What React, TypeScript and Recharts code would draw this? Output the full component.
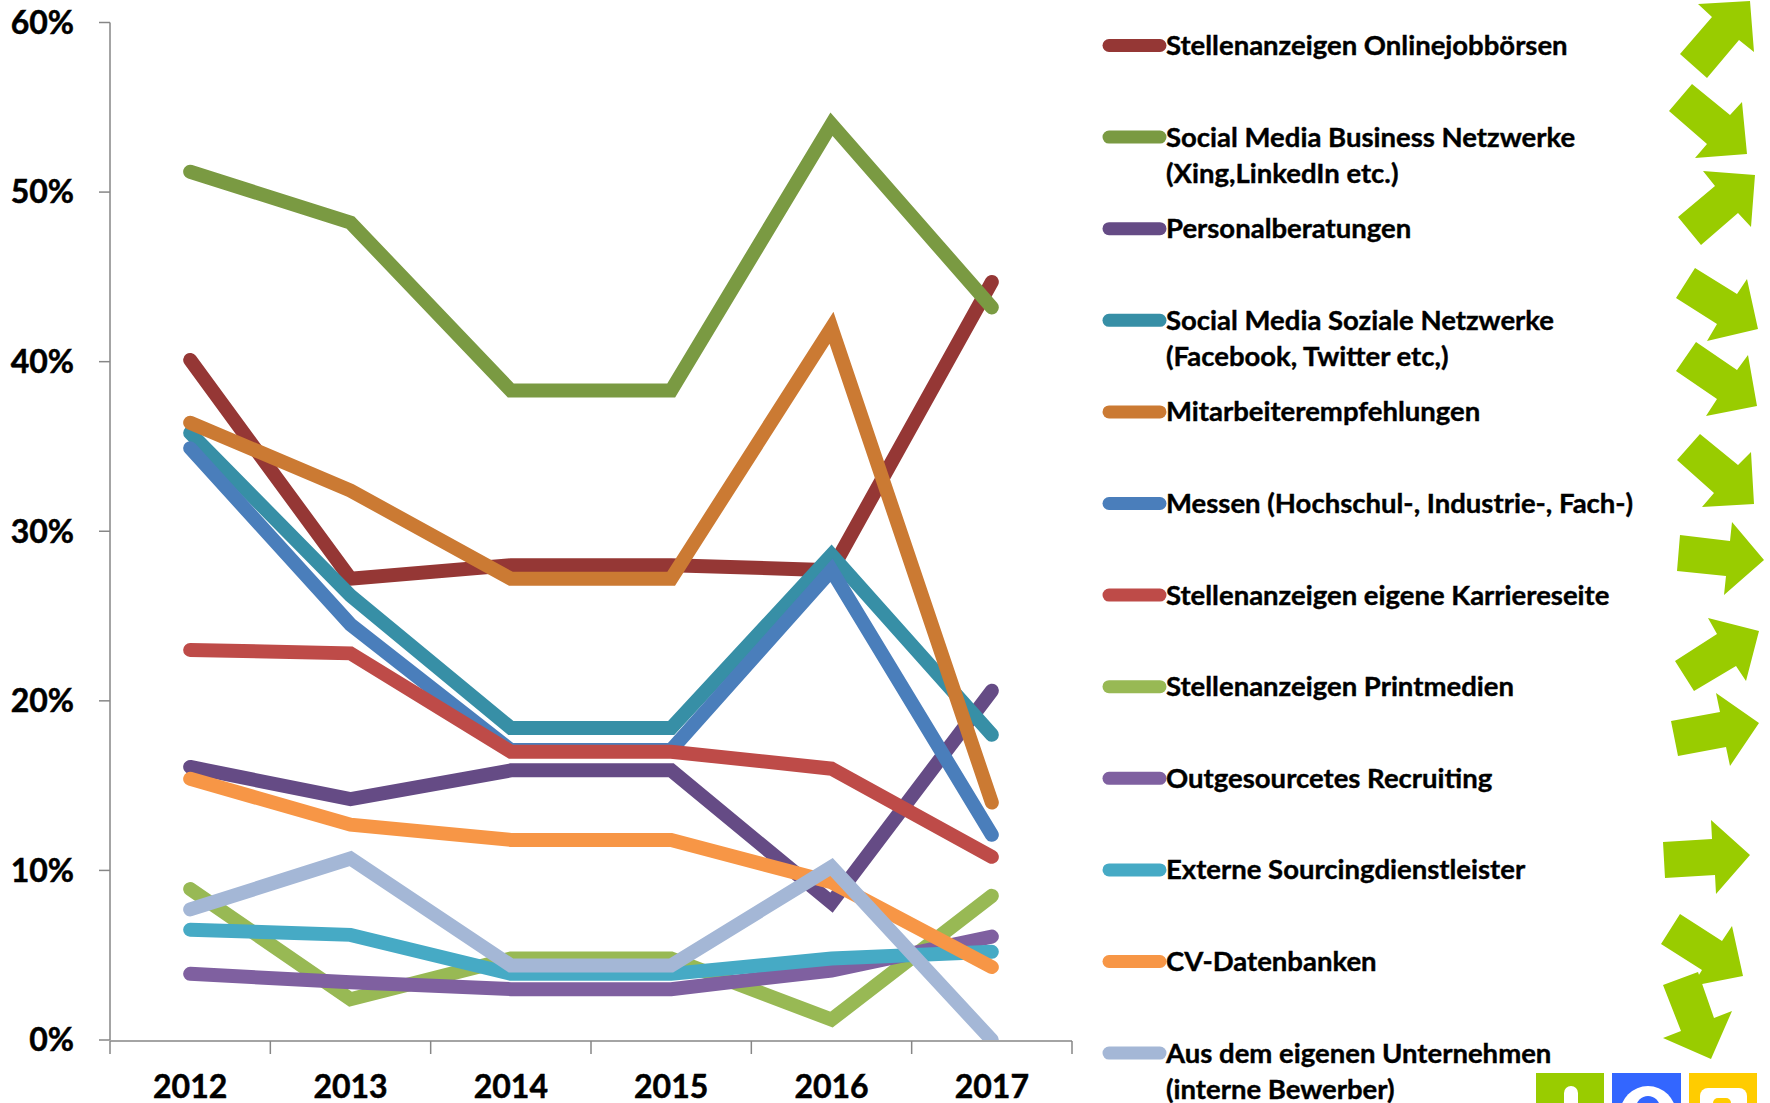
import React from "react";
import { LineChart, Line, XAxis, YAxis } from "recharts";

const years = ["2012", "2013", "2014", "2015", "2016", "2017"];
const online = [40.1, 27.2, 28, 28, 27.7, 44.7];
const business = [51.2, 48.2, 38.3, 38.3, 54, 43.2];
const personal = [16.1, 14.2, 15.9, 15.9, 8.1, 20.6];
const soziale = [35.8, 26.2, 18.4, 18.4, 28.6, 18];
const mitarbeiter = [36.4, 32.4, 27.2, 27.2, 42, 14];
const messen = [34.9, 24.5, 17.1, 17.1, 27.7, 12.1];
const karriere = [23, 22.8, 17, 17, 16, 10.8];
const print = [8.9, 2.4, 4.8, 4.8, 1.2, 8.5];
const outsourced = [3.9, 3.4, 3.0, 3.0, 4.1, 6.1];
const extern = [6.5, 6.2, 3.9, 3.9, 4.8, 5.2];
const cv = [15.4, 12.7, 11.8, 11.8, 9.3, 4.3];
const intern = [7.7, 10.7, 4.4, 4.4, 10.2, 0];

const series = [
  { key: "online", lines: ["Stellenanzeigen Onlinejobbörsen"], values: online, color: "#953735" },
  { key: "business", lines: ["Social Media Business Netzwerke", "(Xing,LinkedIn etc.)"], values: business, color: "#7A9A42" },
  { key: "personal", lines: ["Personalberatungen"], values: personal, color: "#654B85" },
  { key: "soziale", lines: ["Social Media Soziale Netzwerke", "(Facebook, Twitter etc,)"], values: soziale, color: "#378FA6" },
  { key: "mitarbeiter", lines: ["Mitarbeiterempfehlungen"], values: mitarbeiter, color: "#CB7A33" },
  { key: "messen", lines: ["Messen (Hochschul-, Industrie-, Fach-)"], values: messen, color: "#4A7EBB" },
  { key: "karriere", lines: ["Stellenanzeigen eigene Karriereseite"], values: karriere, color: "#BE4B48" },
  { key: "print", lines: ["Stellenanzeigen Printmedien"], values: print, color: "#98B954" },
  { key: "outsourced", lines: ["Outgesourcetes Recruiting"], values: outsourced, color: "#7F60A0" },
  { key: "extern", lines: ["Externe Sourcingdienstleister"], values: extern, color: "#46AAC5" },
  { key: "cv", lines: ["CV-Datenbanken"], values: cv, color: "#F79646" },
  { key: "intern", lines: ["Aus dem eigenen Unternehmen", "(interne Bewerber)"], values: intern, color: "#A4B7D6" },
];

const rows = years.map((year, i) => {
  const row: Record<string, string | number> = { year };
  series.forEach((s) => { row[s.key] = s.values[i]; });
  return row;
});

const FONT = "Lato, 'Open Sans', sans-serif";
const arrowGreen = "#99CC00";
const axisColor = "#868686";
const axisTick = { fontFamily: FONT, fontWeight: 700, fontSize: 32, fill: "#000", stroke: "#000", strokeWidth: 0.5 };

// boundaries between the year bands, on the index axis 0..5 that recharts gives an unbound axis
const bandEdges = [0, 5 / 6, 10 / 6, 15 / 6, 20 / 6, 25 / 6, 5];

// decorative trend arrows, in full-image pixels
const arrows: number[][][] = [
  [[1680,54],[1707,78],[1739,40],[1754,52],[1750,1],[1698,4],[1712,17]],
  [[1669,111],[1692,84],[1730,115],[1742,102],[1747,154],[1695,158],[1707,144]],
  [[1678,217],[1701,245],[1738,213],[1751,227],[1755,175],[1703,171],[1715,186]],
  [[1676,298],[1695,268],[1737,294],[1747,279],[1758,329],[1707,341],[1717,324]],
  [[1676,371],[1696,342],[1737,370],[1748,355],[1757,406],[1706,416],[1717,399]],
  [[1677,460],[1700,434],[1738,465],[1751,452],[1754,504],[1702,507],[1714,493]],
  [[1680,535],[1730,541],[1732,522],[1764,560],[1724,595],[1726,576],[1677,571]],
  [[1675,661],[1717,634],[1708,618],[1759,631],[1746,681],[1736,666],[1694,691]],
  [[1671,721],[1720,712],[1716,693],[1759,723],[1730,766],[1726,747],[1678,756]],
  [[1663,842],[1712,839],[1711,820],[1750,855],[1716,894],[1715,875],[1665,878]],
  [[1661,944],[1680,914],[1722,941],[1732,926],[1743,976],[1692,986],[1702,970]],
  [[1663,985],[1698,972],[1714,1018],[1732,1011],[1711,1059],[1663,1038],[1681,1031]],
];

const legendTop = 44.5;
const legendStep = 91.6;

export default function App() {
  return (
    <div style={{ position: "absolute", left: 0, top: 0, width: 1770, height: 1103, overflow: "hidden", background: "#fff" }}>
      <LineChart
        width={1770}
        height={1103}
        data={rows}
        margin={{ top: 22.5, right: 698, bottom: 61, left: 0 }}
      >
        <XAxis
          xAxisId="edges"
          type="number"
          domain={[0, 5]}
          allowDataOverflow
          ticks={bandEdges}
          height={1}
          interval={0}
          tickFormatter={() => ""}
          tickSize={13}
          stroke={axisColor}
          tickLine={{ stroke: axisColor, strokeWidth: 1.5 }}
          axisLine={{ stroke: axisColor, strokeWidth: 1.5 }}
        />
        <XAxis
          dataKey="year"
          scale="band"
          height={1}
          interval={0}
          tickLine={false}
          axisLine={false}
          tickSize={0}
          tickMargin={35}
          tick={axisTick}
        />
        <YAxis
          width={110}
          domain={[0, 60]}
          allowDataOverflow
          ticks={[0, 10, 20, 30, 40, 50, 60]}
          tickFormatter={(v: number) => `${v}%`}
          tickSize={11}
          tickMargin={25}
          stroke={axisColor}
          tickLine={{ stroke: axisColor, strokeWidth: 1.5 }}
          axisLine={{ stroke: axisColor, strokeWidth: 1.5 }}
          tick={axisTick}
        />
        {series.map((s) => (
          <Line
            key={s.key}
            dataKey={s.key}
            stroke={s.color}
            strokeWidth={14}
            strokeLinecap="round"
            strokeLinejoin="miter"
            dot={false}
            activeDot={false}
            isAnimationActive={false}
          />
        ))}
      </LineChart>

      <svg width={1770} height={1103} style={{ position: "absolute", left: 0, top: 0 }}>
        {series.map((s, i) => {
          const y = legendTop + i * legendStep;
          return (
            <g key={s.key}>
              <line x1={1109} x2={1160} y1={y + 1} y2={y + 1} stroke={s.color} strokeWidth={13} strokeLinecap="round" />
              {s.lines.map((t, j) => (
                <text key={j} x={1166} y={y + 36 * j} dominantBaseline="central" fontFamily={FONT} fontWeight={700} fontSize={27.5} fill="#000" stroke="#000" strokeWidth={0.4}>
                  {t}
                </text>
              ))}
            </g>
          );
        })}
        {arrows.map((p, i) => (
          <polygon key={i} points={p.map((q) => q.join(",")).join(" ")} fill={arrowGreen} />
        ))}
        <rect x={1536} y={1073} width={68} height={30} fill="#99CC00" />
        <rect x={1612} y={1073} width={69} height={30} fill="#3366FF" />
        <rect x={1689} y={1073} width={68} height={30} fill="#FFCC00" />
        <rect x={1564} y={1086} width={14} height={30} rx={7} fill="#fff" />
        <circle cx={1648} cy={1114} r={28} fill="#fff" />
        <circle cx={1648} cy={1108} r={12} fill="#3366FF" />
        <rect x={1700} y={1088} width={47} height={30} rx={8} fill="#fff" />
        <rect x={1713} y={1098} width={18} height={20} rx={5} fill="#FFCC00" />
      </svg>
    </div>
  );
}
